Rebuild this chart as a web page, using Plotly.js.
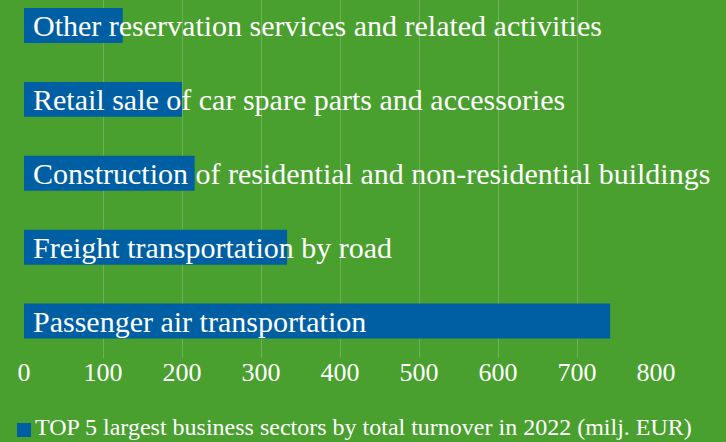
<!DOCTYPE html>
<html>
<head>
<meta charset="utf-8">
<script src="https://cdn.plot.ly/plotly-3.0.1.min.js"></script>
<style>html,body{margin:0;padding:0;background:#4a9e2e;}#chart{width:726px;height:442px;}</style>
</head>
<body>
<div id="chart"></div>
<script>
// Data (bottom to top)
const sectors = [
  "Passenger air transportation",
  "Freight transportation by road",
  "Construction of residential and non-residential buildings",
  "Retail sale of car spare parts and accessories",
  "Other reservation services and related activities"
];
const turnover = [742, 333, 216, 200, 125];
const seriesName = "TOP 5 largest business sectors by total turnover in 2022 (milj. EUR)";
const tickVals = [0, 100, 200, 300, 400, 500, 600, 700, 800];

const green = "#49a02e";
const blue = "#005fa3";
const serif = "Liberation Serif, Times New Roman, serif";

// plot-area geometry in pixels (for the hand-placed legend key)
const L = 24, R = 70, T = 0, B = 84, W = 726, H = 442;
const pw = W - L - R, ph = H - T - B;
const px = (x) => (x - L) / pw;
const py = (y) => (H - B - y) / ph;

const trace = {
  type: "bar",
  orientation: "h",
  x: turnover,
  y: sectors,
  name: seriesName,
  marker: {color: blue},
  hoverinfo: "none",
  showlegend: false
};

const annotations = sectors.map((s) => ({
  x: 0, y: s, xref: "x", yref: "y",
  text: s, showarrow: false, xanchor: "left", yanchor: "middle",
  xshift: 7, font: {family: serif, size: 30, color: "#ffffff"}
}));
annotations.push({
  xref: "paper", yref: "paper", x: px(34), y: py(441),
  xanchor: "left", yanchor: "bottom", showarrow: false, borderpad: 0,
  text: seriesName, font: {family: serif, size: 24, color: "#ffffff"}
});

const layout = {
  width: W, height: H,
  margin: {l: L, r: R, t: T, b: B},
  paper_bgcolor: green, plot_bgcolor: green,
  bargap: 0.527,
  xaxis: {
    range: [0, 800], tickvals: tickVals, ticktext: tickVals.map(String),
    showgrid: true, gridcolor: "#6bb255", gridwidth: 1, zeroline: false,
    showline: false, ticks: "", ticklabelstandoff: -4,
    tickfont: {family: serif, size: 26, color: "#ffffff"}
  },
  yaxis: {
    type: "category", categoryarray: sectors, range: [-0.5, 4.345],
    showticklabels: false, showgrid: false, zeroline: false, ticks: ""
  },
  showlegend: false,
  shapes: [{
    type: "rect", xref: "paper", yref: "paper",
    x0: px(17), x1: px(31), y0: py(437), y1: py(423),
    fillcolor: blue, line: {width: 0}
  }],
  annotations: annotations
};

Plotly.newPlot("chart", [trace], layout, {staticPlot: true});
</script>
</body>
</html>
